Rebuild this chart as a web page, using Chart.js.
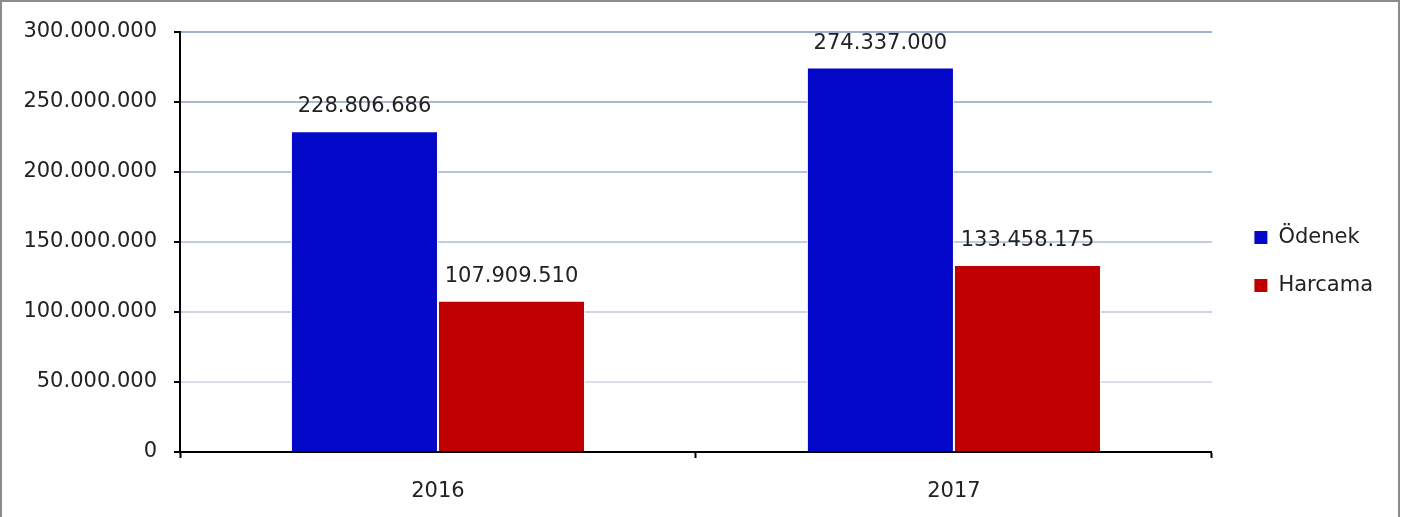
<!DOCTYPE html>
<html>
<head>
<meta charset="utf-8">
<script src="https://cdn.jsdelivr.net/npm/chart.js@4"></script>
<style>
  html, body { margin: 0; padding: 0; background: #fff; overflow: hidden; }
  #frame { position: absolute; left: 0; top: 0; width: 1396px; height: 540px; border: 2px solid #8c8c8c; background: #fff; }
</style>
</head>
<body>
<div id="frame"><canvas id="butce"></canvas></div>
<script>
let years = ["2016", "2017"];
let odenek = [228806686, 274337000];
let harcama = [107909510, 133458175];
let yMax = 300000000;
let yStep = 50000000;

let textColor = "#222222";
let fontFamily = "'DejaVu Sans', sans-serif";

function dots(n) {
  return String(n).replace(/\B(?=(\d{3})+(?!\d))/g, ".");
}

// gridlines fade from light at the bottom to darker at the top
function gridColor(value) {
  let t = value / yMax;
  let r = Math.round(228 + (159 - 228) * t);
  let g = Math.round(232 + (176 - 232) * t);
  let b = Math.round(242 + (208 - 242) * t);
  return "rgb(" + r + "," + g + "," + b + ")";
}

const barLabels = {
  id: "barLabels",
  afterDatasetsDraw(chart) {
    let ctx = chart.ctx;
    ctx.save();
    ctx.font = "21px " + fontFamily;
    ctx.fillStyle = textColor;
    ctx.textAlign = "center";
    ctx.textBaseline = "alphabetic";
    chart.data.datasets.forEach((ds, i) => {
      chart.getDatasetMeta(i).data.forEach((bar, j) => {
        ctx.fillText(dots(ds.data[j]), bar.x, bar.y - 19);
      });
    });
    ctx.restore();
  }
};

// nudge the legend: a bit right of the plot and slightly above centre
const legendShift = {
  id: "legendShift",
  afterLayout(chart) {
    chart.legend.left += 15;
    chart.legend.right += 15;
    chart.legend.top -= 10;
    chart.legend.bottom -= 10;
  }
};

let ctx = document.getElementById("butce").getContext("2d");
let chart = new Chart(ctx, {
  type: "bar",
  data: {
    labels: years,
    datasets: [
      {
        label: "Ödenek",
        data: odenek,
        backgroundColor: "#0408C9",
        borderColor: "#ffffff",
        borderWidth: 1
      },
      {
        label: "Harcama",
        data: harcama,
        backgroundColor: "#C00000",
        borderColor: "#ffffff",
        borderWidth: 1
      }
    ]
  },
  options: {
    responsive: true,
    maintainAspectRatio: false,
    animation: false,
    categoryPercentage: 0.57,
    barPercentage: 1,
    layout: { padding: { top: 29, bottom: 30, left: 0, right: 30 } },
    plugins: {
      tooltip: { enabled: false },
      legend: {
        position: "right",
        labels: {
          boxWidth: 14,
          boxHeight: 14,
          padding: 27,
          color: textColor,
          font: { family: fontFamily, size: 21 }
        }
      }
    },
    scales: {
      x: {
        grid: {
          offset: true,
          drawOnChartArea: false,
          tickLength: 6,
          tickColor: "#000",
          tickWidth: 2
        },
        border: { color: "#000", width: 2 },
        ticks: {
          color: textColor,
          padding: 21,
          font: { family: fontFamily, size: 21 }
        },
        afterFit(scale) { scale.height = 60; }
      },
      y: {
        min: 0,
        max: yMax,
        grid: {
          color: c => gridColor(c.tick.value),
          lineWidth: 2,
          tickLength: 6,
          tickColor: "#000",
          tickWidth: 2
        },
        border: { color: "#000", width: 2 },
        ticks: {
          stepSize: yStep,
          color: textColor,
          padding: 17,
          font: { family: fontFamily, size: 21 },
          callback: v => dots(v)
        },
        afterFit(scale) { scale.width = 178; }
      }
    }
  },
  plugins: [barLabels, legendShift]
});
</script>
</body>
</html>
